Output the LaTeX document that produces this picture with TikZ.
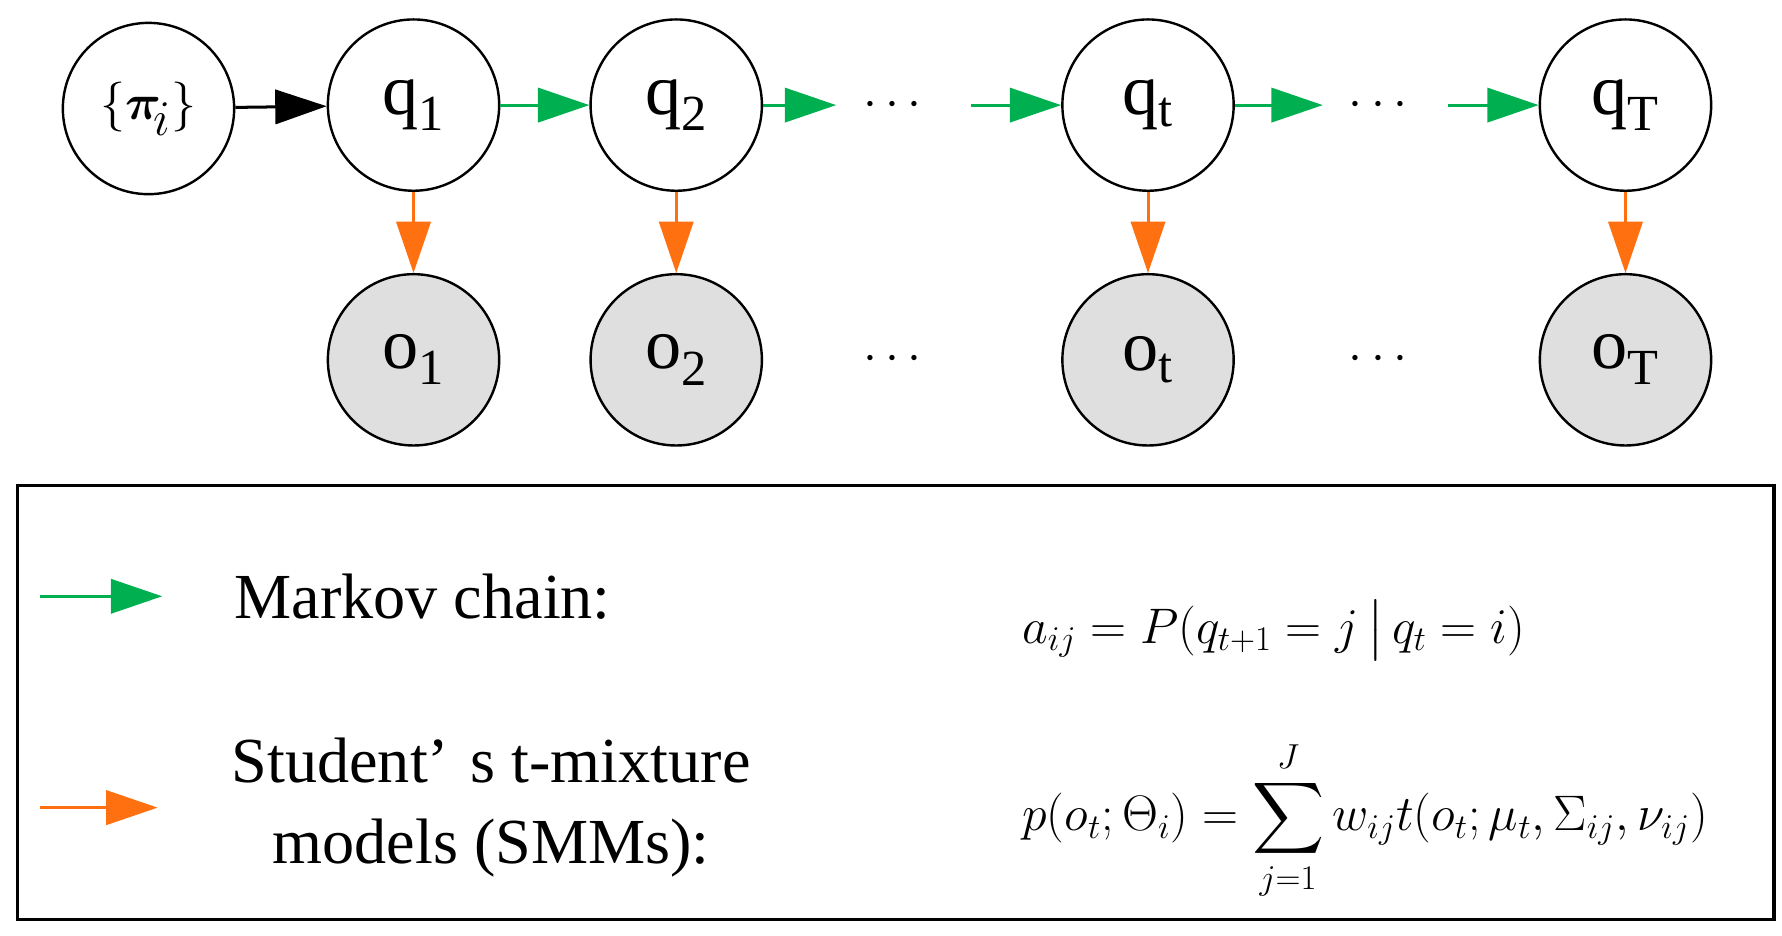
\documentclass[tikz,border=0pt]{standalone}
\usepackage{amsmath,amsbsy}
\usepackage{fontspec}
\setmainfont{Liberation Serif}
\usetikzlibrary{arrows.meta,positioning}
\definecolor{mkgreen}{RGB}{0,176,80}
\definecolor{mkorange}{RGB}{255,112,16}
\tikzset{
  state/.style={draw,circle,line width=1.2pt,minimum size=3cm,inner sep=0pt,font=\fontsize{36}{40}\selectfont},
  obs/.style={state,fill=gray!25},
  trans/.style={-{Triangle[length=0.9cm,width=0.6cm]},mkgreen,line width=1.5pt},
  emit/.style={-{Triangle[length=0.9cm,width=0.6cm]},mkorange,line width=1.5pt},
  txt/.style={font=\fontsize{32}{40}\selectfont,align=center}
}
\begin{document}
\begin{tikzpicture}[x=0.02cm,y=-0.02cm]
  \useasboundingbox (0,0) rectangle (1560,819);
  % hidden states
  \node [state] (pi) at (130,95) {$\{\boldsymbol{\pi}_{\!i}\}$};
  \node [state] (q1) at (362,92) {q\textsubscript{1}};
  \node [state] (q2) at (592,92) {q\textsubscript{2}};
  \node [state] (qt) at (1005,92) {q\textsubscript{t}};
  \node [state] (qT) at (1423,92) {q\textsubscript{T}};
  \node [txt,font=\fontsize{40}{40}\selectfont] (d1) at (785,92) {$\cdots$};
  \node [txt,font=\fontsize{40}{40}\selectfont] (d2) at (1210,92) {$\cdots$};
  % observations
  \node [obs] (o1) at (362,315) {o\textsubscript{1}};
  \node [obs] (o2) at (592,315) {o\textsubscript{2}};
  \node [obs] (ot) at (1005,315) {o\textsubscript{t}};
  \node [obs] (oT) at (1423,315) {o\textsubscript{T}};
  \node [txt,font=\fontsize{40}{40}\selectfont] (d3) at (785,315) {$\cdots$};
  \node [txt,font=\fontsize{40}{40}\selectfont] (d4) at (1210,315) {$\cdots$};

  \coordinate (a1) at (732,92);
  \coordinate (a2) at (850,92);
  \coordinate (a3) at (1158,92);
  \coordinate (a4) at (1268,92);
  \draw [-{Triangle[length=0.9cm,width=0.6cm]},line width=1.5pt] (pi) -- (q1);
  \draw [trans] (q1) -- (q2);
  \draw [trans] (q2) -- (a1);
  \draw [trans] (a2) -- (qt);
  \draw [trans] (qt) -- (a3);
  \draw [trans] (a4) -- (qT);
  \foreach \s in {1,2,t,T}
    \draw [emit] (q\s) -- (o\s);

  % legend
  \node [draw,line width=1.8pt,minimum width=30.76cm,minimum height=7.6cm] (box) at (784,615) {};
  \coordinate (g1) at (35,522);
  \coordinate (g2) at (142,522);
  \coordinate (r1) at (35,707);
  \coordinate (r2) at (138,707);
  \draw [trans] (g1) -- (g2);
  \draw [emit] (r1) -- (r2);
  \node [txt] (mk) at (370,522) {Markov chain:};
  \node [txt] (sm) at (430,707) {Student’\,\,s t-mixture\\models (SMMs):};
  \node [txt,font=\fontsize{27}{30}\selectfont] (fa) at (1115,552)
    {$a_{ij}=P(q_{t+1}=j\,\big|\,q_t=i)$};
  \node [txt,font=\fontsize{27}{30}\selectfont] (fp) at (1195,718)
    {$p(o_t;\Theta_i)=\displaystyle\sum_{j=1}^{J}w_{ij}t(o_t;\mu_t,\Sigma_{ij},\nu_{ij})$};
\end{tikzpicture}
\end{document}
